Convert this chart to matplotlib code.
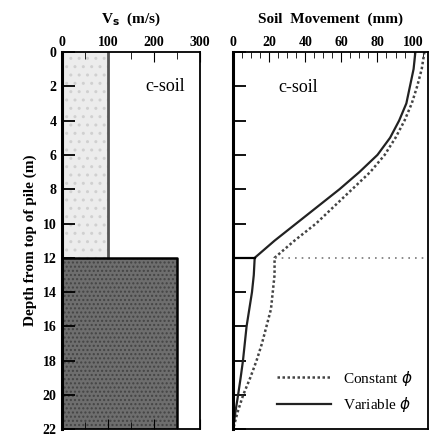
import matplotlib.pyplot as plt
from matplotlib.ticker import MultipleLocator

plt.rcParams['font.family'] = ['Liberation Serif', 'DejaVu Serif']
plt.rcParams['axes.titley'] = 1.0

# perfil de Vs (m/s) por profundidade
vs_top = 100      # camada superior 0-12 m
vs_bottom = 250   # camada inferior 12-22 m
z_layer = 12
z_max = 22

# movimento do solo (mm)
depth = [0, 1, 2, 3, 4, 5, 6, 7, 8, 9, 10, 11, 12,
         13, 14, 15, 16, 17, 18, 19, 20, 21, 22]
mov_variable = [101, 100, 98, 96, 92, 87, 80, 70, 59, 47, 35, 23, 12,
                11.5, 10.5, 9, 7.5, 6.5, 5.5, 4.2, 2.8, 1.3, 0]
mov_constant = [106, 104.5, 102, 99, 95, 90, 84, 76, 66, 56, 46, 34, 23,
                23, 22, 21, 18.5, 16, 13, 9.5, 5.6, 2.5, 0]

fig = plt.figure(figsize=(4.32, 4.40), dpi=100)
ax1 = fig.add_axes([0.1435, 0.024, 0.3194, 0.858])
ax2 = fig.add_axes([0.5394, 0.024, 0.4514, 0.858])

# painel esquerdo: Vs
ax1.fill_betweenx([0, z_layer], 0, vs_top, color='#ececec', hatch='..',
                  edgecolor='#d0d0d0', linewidth=0)
ax1.fill_betweenx([z_layer, z_max], 0, vs_bottom, facecolor='#6e6e6e',
                  hatch='....', edgecolor='#444444', linewidth=0)
ax1.plot([vs_top, vs_top], [0, z_layer], color='#555555', lw=2)
ax1.plot([0, vs_bottom, vs_bottom], [z_layer, z_layer, z_max], color='black', lw=1.8)
ax1.set_xlim(0, 300)
ax1.set_ylim(z_max, 0)
ax1.xaxis.set_major_locator(MultipleLocator(100))
ax1.xaxis.set_minor_locator(MultipleLocator(50))
ax1.yaxis.set_major_locator(MultipleLocator(2))
ax1.tick_params(axis='x', which='both', top=True, bottom=True, labeltop=True,
                labelbottom=False, direction='in')
ax1.tick_params(axis='x', which='major', length=7, labelsize=10, pad=2)
ax1.tick_params(axis='x', which='minor', length=5)
ax1.tick_params(axis='y', direction='in', length=9, width=1.3, labelsize=10, pad=4)
ax1.set_title('V$_\\mathbf{s}$  (m/s)', fontsize=11, fontweight='bold', pad=21)
ax1.set_ylabel('Depth from top of pile (m)', fontsize=11, fontweight='bold', labelpad=4)
ax1.text(267, 2, 'c-soil', fontsize=13, ha='right', va='center')
for lbl in ax1.get_xticklabels() + ax1.get_yticklabels():
    lbl.set_fontweight('bold')

# painel direito: movimento do solo
ax2.plot(mov_constant, depth, color='#444444', lw=1.8, ls=(0, (1, 1)),
         label='Constant $\\phi$')
ax2.plot(mov_variable, depth, color='#222222', lw=1.6, label='Variable $\\phi$')
ax2.plot([0, mov_variable[12]], [z_layer, z_layer], color='black', lw=1.6)
ax2.plot([mov_constant[12], 110], [z_layer, z_layer], color='#777777', lw=1.2,
         ls=(0, (1, 3)))
ax2.set_xlim(0, 108)
ax2.set_ylim(z_max, 0)
ax2.xaxis.set_major_locator(MultipleLocator(20))
ax2.xaxis.set_minor_locator(MultipleLocator(5))
ax2.yaxis.set_major_locator(MultipleLocator(2))
ax2.tick_params(axis='x', which='both', top=True, bottom=False, labeltop=True,
                labelbottom=False, direction='in')
ax2.tick_params(axis='x', which='major', length=7, labelsize=10, pad=2)
ax2.tick_params(axis='x', which='minor', length=4)
ax2.tick_params(axis='y', direction='in', length=9, width=1.3, labelleft=False)
ax2.set_title('Soil  Movement  (mm)', fontsize=11, fontweight='bold', pad=21)
ax2.text(25, 2.1, 'c-soil', fontsize=13, ha='left', va='center')
for lbl in ax2.get_xticklabels():
    lbl.set_fontweight('bold')
ax2.legend(loc='lower right', frameon=False, handlelength=3.5, fontsize=11,
           borderaxespad=0.6, labelspacing=0.5)

for ax in (ax1, ax2):
    for s in ax.spines.values():
        s.set_linewidth(1.3)
    ax.spines['left'].set_linewidth(2.2)

fig.savefig('out.png', dpi=100)
